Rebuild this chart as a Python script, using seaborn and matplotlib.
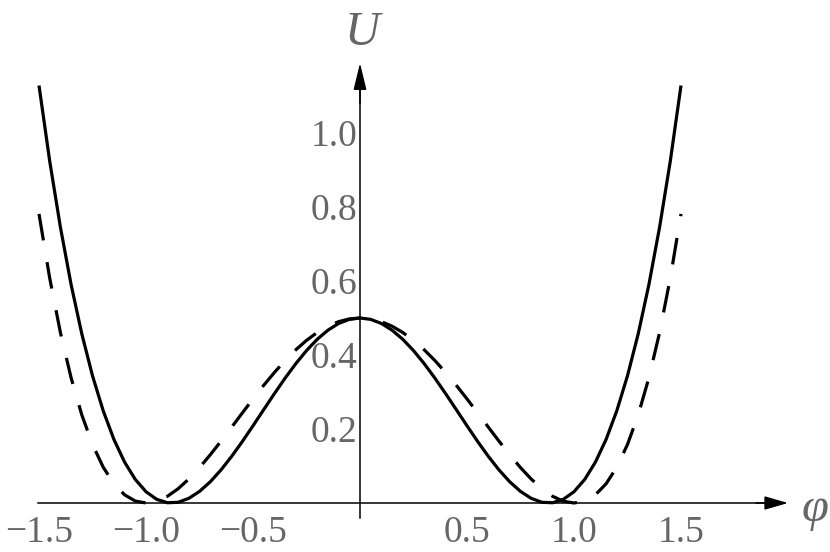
import numpy as np
import pandas as pd
import matplotlib
matplotlib.use("Agg")
import matplotlib.pyplot as plt
import seaborn as sns

# ---------------- data ----------------
phi = [-1.50, -1.45, -1.40, -1.35, -1.30, -1.25, -1.20, -1.15, -1.10, -1.05,
       -1.00, -0.95, -0.90, -0.85, -0.80, -0.75, -0.70, -0.65, -0.60, -0.55,
       -0.50, -0.45, -0.40, -0.35, -0.30, -0.25, -0.20, -0.15, -0.10, -0.05,
       0.00, 0.05, 0.10, 0.15, 0.20, 0.25, 0.30, 0.35, 0.40, 0.45,
       0.50, 0.55, 0.60, 0.65, 0.70, 0.75, 0.80, 0.85, 0.90, 0.95,
       1.00, 1.05, 1.10, 1.15, 1.20, 1.25, 1.30, 1.35, 1.40, 1.45, 1.50]

u_solid = [1.1283, 0.9241, 0.7455, 0.5904, 0.4571, 0.3439, 0.2493, 0.1719, 0.1104, 0.0636,
           0.0305, 0.0099, 0.0007, 0.0019, 0.0125, 0.0313, 0.0572, 0.0891, 0.1258, 0.1661,
           0.2087, 0.2523, 0.2956, 0.3375, 0.3766, 0.4119, 0.4424, 0.4670, 0.4852, 0.4963,
           0.5000, 0.4963, 0.4852, 0.4670, 0.4424, 0.4119, 0.3766, 0.3375, 0.2956, 0.2523,
           0.2087, 0.1661, 0.1258, 0.0891, 0.0572, 0.0313, 0.0125, 0.0019, 0.0007, 0.0099,
           0.0305, 0.0636, 0.1104, 0.1719, 0.2493, 0.3439, 0.4571, 0.5904, 0.7455, 0.9241, 1.1283]

u_dashed = [0.7813, 0.6078, 0.4608, 0.3383, 0.2381, 0.1582, 0.0968, 0.0520, 0.0221, 0.0053,
            0.0000, 0.0048, 0.0181, 0.0385, 0.0648, 0.0957, 0.1301, 0.1668, 0.2048, 0.2433,
            0.2813, 0.3180, 0.3528, 0.3850, 0.4141, 0.4395, 0.4608, 0.4778, 0.4901, 0.4975,
            0.5000, 0.4975, 0.4901, 0.4778, 0.4608, 0.4395, 0.4141, 0.3850, 0.3528, 0.3180,
            0.2813, 0.2433, 0.2048, 0.1668, 0.1301, 0.0957, 0.0648, 0.0385, 0.0181, 0.0048,
            0.0000, 0.0053, 0.0221, 0.0520, 0.0968, 0.1582, 0.2381, 0.3383, 0.4608, 0.6078, 0.7813]

x_ticks = [-1.5, -1.0, -0.5, 0.5, 1.0, 1.5]
x_tick_labels = ["\u22121.5", "\u22121.0", "\u22120.5", "0.5", "1.0", "1.5"]
y_ticks = [0.2, 0.4, 0.6, 0.8, 1.0]
y_tick_labels = ["0.2", "0.4", "0.6", "0.8", "1.0"]
x_label = "\u03c6"
y_label = "U"

# ---------------- styling ----------------
sns.set_style("white")
plt.rcParams["font.family"] = ["Liberation Serif", "DejaVu Serif"]

GRAY = "#666666"

fig = plt.figure(figsize=(8.30, 5.52), dpi=100)
ax = fig.add_axes([0, 0, 1, 1])
ax.set_facecolor("white")

df = pd.DataFrame({"phi": phi, "solid": u_solid, "dashed": u_dashed})

sns.lineplot(data=df, x="phi", y="solid", color="black", lw=2.3, sort=False,
             estimator=None, ax=ax, solid_capstyle="butt", solid_joinstyle="round")
sns.lineplot(data=df, x="phi", y="dashed", color="black", lw=2.3, sort=False,
             estimator=None, ax=ax, linestyle=(0, (8.4, 6.9)), dash_capstyle="butt")

# pixel mapping: x_px = 360 + 214*phi ; y_px = 503 - 370*U
ax.set_xlim(-360 / 214, 470 / 214)
ax.set_ylim((503 - 552) / 370, 503 / 370)

for s in ["top", "right"]:
    ax.spines[s].set_visible(False)
ax.spines["left"].set_position(("data", 0))
ax.spines["bottom"].set_position(("data", 0))
ax.spines["left"].set_bounds(-0.04, 1.15)
ax.spines["bottom"].set_bounds(-1.507, 1.93)
for s in ["left", "bottom"]:
    ax.spines[s].set_linewidth(1.1)
    ax.spines[s].set_color("black")
    ax.spines[s].set_zorder(1)

ax.set_xticks(x_ticks)
ax.set_xticklabels(x_tick_labels)
ax.set_yticks(y_ticks)
ax.set_yticklabels(y_tick_labels)
x_minor = [v for v in np.round(np.arange(-1.4, 1.85, 0.1), 2) if abs(v * 2 - round(v * 2)) > 1e-6]
y_minor = [v for v in np.round(np.arange(0.05, 1.11, 0.05), 2) if abs(v * 5 - round(v * 5)) > 1e-6]
ax.set_xticks(x_minor, minor=True)
ax.set_yticks(y_minor, minor=True)

ax.tick_params(axis="both", which="major", direction="in", length=4.5, width=0.9,
               color="black", labelsize=27, labelcolor=GRAY)
ax.tick_params(axis="both", which="minor", direction="in", length=2.8, width=0.8,
               color="black")
ax.tick_params(axis="x", which="major", pad=9)
ax.tick_params(axis="y", which="major", pad=2)
ax.set_xlabel("")
ax.set_ylabel("")
ax.grid(False)

# arrow heads
ax.annotate("", xy=(2.0, 0), xytext=(1.85, 0),
            arrowprops=dict(arrowstyle="-|>,head_length=1.45,head_width=0.42",
                            mutation_scale=10, lw=1.1, color="black",
                            shrinkA=0, shrinkB=0))
ax.annotate("", xy=(0, 1.189), xytext=(0, 1.08),
            arrowprops=dict(arrowstyle="-|>,head_length=1.65,head_width=0.40",
                            mutation_scale=10, lw=1.1, color="black",
                            shrinkA=0, shrinkB=0))

# axis labels
ax.text(2.128, -0.0486, x_label, fontsize=35, style="italic", color=GRAY,
        ha="center", va="baseline")
ax.text(0.012, 1.238, y_label, fontsize=35, style="italic", color=GRAY,
        ha="center", va="baseline")

fig.savefig("out.png", dpi=100, facecolor="white")
